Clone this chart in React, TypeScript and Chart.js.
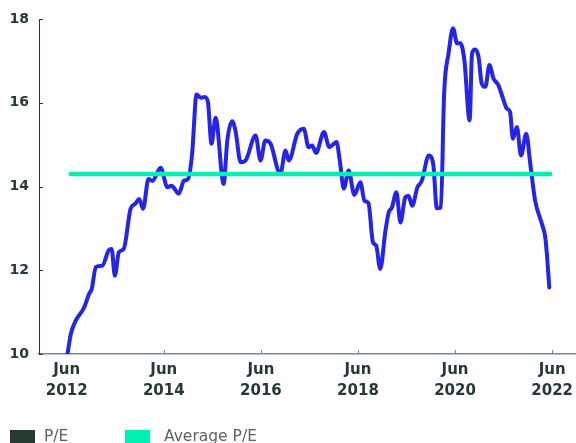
import React, { useEffect, useRef } from "react";
import { Chart, registerables } from "chart.js";

Chart.register(...registerables);

// Months since Jun 2012 for each reading
const monthsSinceJun2012 = [
  0.2, 1.0, 2.2, 4.3, 5.5, 6.2, 7.2, 8.8, 10.4, 11.1,
  11.9, 12.9, 14.1, 15.8, 17.0, 17.9, 18.9, 20.2, 21.2, 23.2,
  24.9, 25.9, 27.7, 29.0, 30.0, 31.0, 32.1, 33.1, 34.1, 34.9,
  35.8, 36.8, 38.8, 39.7, 40.9, 41.7, 43.0, 44.2, 46.7, 47.9,
  49.1, 50.4, 52.8, 54.1, 54.9, 57.0, 58.6, 59.8, 60.7, 61.6,
  63.6, 64.9, 66.7, 67.5, 68.5, 69.7, 71.1, 72.6, 73.6, 74.6,
  75.7, 76.5, 77.5, 78.8, 79.6, 80.4, 81.5, 82.5, 83.7, 84.5,
  85.4, 86.7, 87.8, 89.5, 90.6, 91.5, 92.5, 93.3, 94.4, 95.5,
  96.5, 97.3, 98.3, 99.6, 100.2, 101.0, 101.8, 102.6, 103.5, 104.5,
  105.5, 106.7, 108.0, 108.8, 109.6, 110.3, 111.3, 112.3, 113.6, 114.6,
  115.8, 117.5, 118.3, 118.7, 119.3,
];

const peValues = [
  10.0, 10.47, 10.79, 11.11, 11.43, 11.56, 12.08, 12.11, 12.48, 12.51,
  11.87, 12.43, 12.51, 13.47, 13.59, 13.7, 13.47, 14.18, 14.13, 14.45,
  13.98, 14.02, 13.83, 14.14, 14.18, 14.78, 16.2, 16.12, 16.14, 16.02,
  15.02, 15.64, 14.06, 15.1, 15.56, 15.34, 14.58, 14.62, 15.22, 14.62,
  15.1, 15.02, 14.3, 14.86, 14.62, 15.26, 15.38, 14.94, 14.98, 14.8,
  15.3, 14.94, 15.06, 14.62, 13.95, 14.38, 13.8, 14.1, 13.66, 13.6,
  12.67, 12.59, 12.03, 12.95, 13.38, 13.5, 13.86, 13.14, 13.74, 13.78,
  13.54, 13.98, 14.14, 14.74, 14.54, 13.48, 13.5, 16.22, 17.18, 17.78,
  17.42, 17.42, 17.02, 15.58, 17.18, 17.27, 17.1, 16.46, 16.38, 16.9,
  16.58, 16.42, 16.06, 15.86, 15.78, 15.14, 15.42, 14.74, 15.26, 14.54,
  13.66, 13.1, 12.79, 12.39, 11.59,
];

const averagePE = 14.3;
const averageSpanMonths = [1, 119.5];

const xTickMonths = [0, 24, 48, 72, 96, 120];
const xTickLabels = [
  ["Jun", "2012"],
  ["Jun", "2014"],
  ["Jun", "2016"],
  ["Jun", "2018"],
  ["Jun", "2020"],
  ["Jun", "2022"],
];
const yTickValues = [10, 12, 14, 16, 18];

const legendItems = [
  { label: "P/E", color: "#263b30" },
  { label: "Average P/E", color: "#00efb2" },
];

const DARK = "#263b30";
const AXIS_GREY = "#7d8a84";

const insideTicks = {
  id: "insideTicks",
  beforeDatasetsDraw(chart: any) {
    const { ctx, chartArea, scales } = chart;
    const x = scales.x;
    const y = scales.y;
    ctx.save();
    ctx.lineWidth = 1;
    ctx.strokeStyle = AXIS_GREY;
    xTickMonths.forEach((m) => {
      const px = Math.round(x.getPixelForValue(m)) + 0.5;
      ctx.beginPath();
      ctx.moveTo(px, chartArea.bottom);
      ctx.lineTo(px, chartArea.bottom - 4);
      ctx.stroke();
    });
    ctx.strokeStyle = DARK;
    yTickValues.forEach((v) => {
      const py = Math.round(y.getPixelForValue(v)) + 0.5;
      ctx.beginPath();
      ctx.moveTo(chartArea.left, py);
      ctx.lineTo(chartArea.left + 4, py);
      ctx.stroke();
    });
    ctx.restore();
  },
};

export default function App() {
  const canvasRef = useRef<HTMLCanvasElement | null>(null);

  useEffect(() => {
    document.body.style.margin = "0";
    const canvas = canvasRef.current;
    if (!canvas) return;
    const chart = new Chart(canvas, {
      type: "line",
      data: {
        datasets: [
          {
            label: "Average P/E",
            data: averageSpanMonths.map((m) => ({ x: m, y: averagePE })),
            borderColor: "#00efb2",
            backgroundColor: "#00efb2",
            borderWidth: 4.5,
            pointRadius: 0,
            borderCapStyle: "round",
            order: 0,
          },
          {
            label: "P/E",
            data: monthsSinceJun2012.map((m, i) => ({ x: m, y: peValues[i] })),
            borderColor: "#2424ea",
            backgroundColor: DARK,
            borderWidth: 4,
            pointRadius: 0,
            cubicInterpolationMode: "monotone",
            borderJoinStyle: "round",
            borderCapStyle: "round",
            order: 1,
          },
        ],
      },
      options: {
        animation: false,
        responsive: true,
        maintainAspectRatio: false,
        layout: { padding: { left: 9, top: 19, right: 0, bottom: 41 } },
        plugins: {
          legend: { display: false },
          tooltip: { enabled: false },
        },
        scales: {
          x: {
            type: "linear",
            min: -6.85,
            max: 125.9,
            afterBuildTicks: (scale: any) => {
              scale.ticks = xTickMonths.map((v) => ({ value: v }));
            },
            afterFit: (scale: any) => {
              scale.height = 48;
              scale.paddingLeft = 0;
              scale.paddingRight = 0;
            },
            grid: { display: false, drawTicks: false },
            border: { display: true, color: AXIS_GREY, width: 1.6 },
            ticks: {
              autoSkip: false,
              maxRotation: 0,
              padding: 5,
              color: DARK,
              font: { family: "DejaVu Sans", size: 15, weight: "bold", lineHeight: 1.43 },
              callback: (value: any) => {
                const idx = xTickMonths.indexOf(Number(value));
                return idx >= 0 ? xTickLabels[idx] : "";
              },
            },
          },
          y: {
            min: 10,
            max: 18,
            afterBuildTicks: (scale: any) => {
              scale.ticks = yTickValues.map((v) => ({ value: v }));
            },
            afterFit: (scale: any) => {
              scale.width = 30;
            },
            grid: { display: false, drawTicks: false },
            border: { display: true, color: DARK, width: 1 },
            ticks: {
              padding: 10,
              color: DARK,
              font: { family: "DejaVu Sans", size: 14, weight: "bold" },
            },
          },
        },
      },
      plugins: [insideTicks],
    } as any);
    return () => chart.destroy();
  }, []);

  return (
    <div style={{ position: "relative", width: 576, height: 443, overflow: "hidden" }}>
      <canvas ref={canvasRef} />
      {legendItems.map((item, i) => (
        <div key={item.label}>
          <div
            style={{
              position: "absolute",
              left: i === 0 ? 10 : 125,
              top: 430,
              width: 25,
              height: 15,
              background: item.color,
            }}
          />
          <div
            style={{
              position: "absolute",
              left: i === 0 ? 44 : 164,
              top: 429,
              font: '15.5px "DejaVu Sans"',
              lineHeight: "15.5px",
              color: "#5f6060",
              whiteSpace: "nowrap",
            }}
          >
            {item.label}
          </div>
        </div>
      ))}
    </div>
  );
}
